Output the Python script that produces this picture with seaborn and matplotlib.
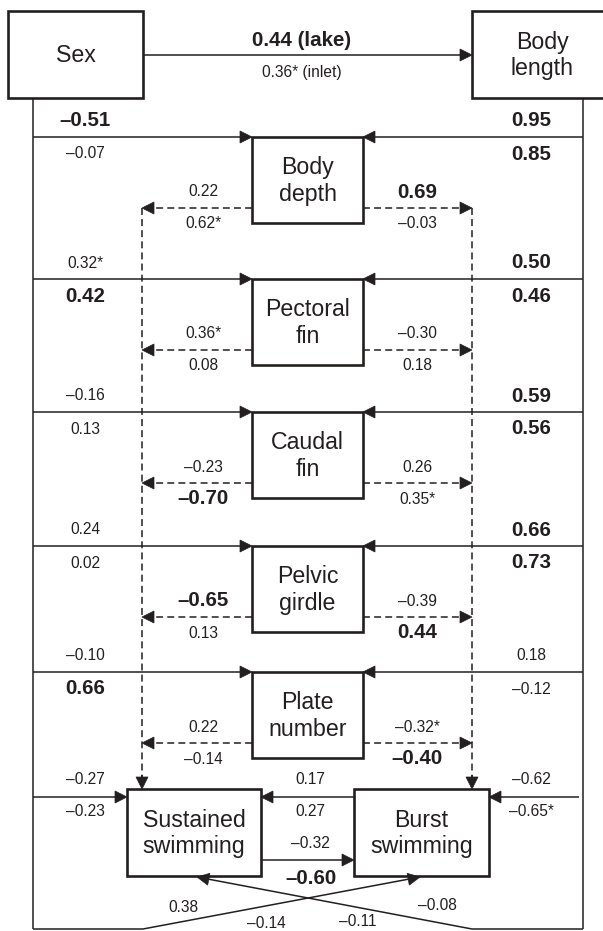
import matplotlib
matplotlib.use("Agg")
import matplotlib.pyplot as plt
from matplotlib.patches import Rectangle, Polygon
import numpy as np
import seaborn as sns

# ---------------------------------------------------------------------------
# Path coefficients (upper value = lake, lower value = inlet); bold = significant
# ---------------------------------------------------------------------------
traits = ["Body\ndepth", "Pectoral\nfin", "Caudal\nfin", "Pelvic\ngirdle", "Plate\nnumber"]

sex_to_length = ["0.44 (lake)", "0.36* (inlet)"]
sex_to_length_sig = [True, False]

sex_to_trait_lake = ["–0.51", "0.32*", "–0.16", "0.24", "–0.10"]
sex_to_trait_lake_sig = [True, False, False, False, False]
sex_to_trait_inlet = ["–0.07", "0.42", "0.13", "0.02", "0.66"]
sex_to_trait_inlet_sig = [False, True, False, False, True]

length_to_trait_lake = ["0.95", "0.50", "0.59", "0.66", "0.18"]
length_to_trait_lake_sig = [True, True, True, True, False]
length_to_trait_inlet = ["0.85", "0.46", "0.56", "0.73", "–0.12"]
length_to_trait_inlet_sig = [True, True, True, True, False]

trait_to_sustained_lake = ["0.22", "0.36*", "–0.23", "–0.65", "0.22"]
trait_to_sustained_lake_sig = [False, False, False, True, False]
trait_to_sustained_inlet = ["0.62*", "0.08", "–0.70", "0.13", "–0.14"]
trait_to_sustained_inlet_sig = [False, False, True, False, False]

trait_to_burst_lake = ["0.69", "–0.30", "0.26", "–0.39", "–0.32*"]
trait_to_burst_lake_sig = [True, False, False, False, False]
trait_to_burst_inlet = ["–0.03", "0.18", "0.35*", "0.44", "–0.40"]
trait_to_burst_inlet_sig = [False, False, False, True, True]

sex_to_sustained = ["–0.27", "–0.23"]
length_to_burst = ["–0.62", "–0.65*"]
burst_to_sustained = ["0.17", "0.27"]
sustained_to_burst = ["–0.32", "–0.60"]
sustained_to_burst_sig = [False, True]
sex_to_burst = ["0.38", "–0.14"]
length_to_sustained = ["–0.08", "–0.11"]

# ---------------------------------------------------------------------------
# Figure in pixel units (y grows downwards)
# ---------------------------------------------------------------------------
sns.set_theme(style="white")
plt.rcParams["font.family"] = ["Liberation Sans", "DejaVu Sans"]
plt.rcParams["lines.scale_dashes"] = False

W, H = 603, 931
INK = "#231f20"
fig = plt.figure(figsize=(W / 100, H / 100), dpi=100)
ax = fig.add_axes([0, 0, 1, 1])
ax.set_xlim(0, W)
ax.set_ylim(H, 0)
ax.set_aspect("equal")
ax.axis("off")

LW = 1.1
BOX_LW = 1.9
DASH = (0, (5, 3))
FS_BOX, FS_BOLD, FS_SMALL = 16.7, 14.8, 11.2


def seg(xs, ys, dashed=False):
    ax.plot(xs, ys, color=INK, lw=LW, ls=DASH if dashed else "-",
            solid_capstyle="butt", dash_capstyle="butt", zorder=2)


def arrow(x0, y0, x1, y1, dashed=False, hl=12.0, hw=6.0):
    d = np.array([x1 - x0, y1 - y0], float)
    d /= np.hypot(*d)
    base = np.array([x1, y1]) - hl * d
    seg([x0, base[0] + 1 * d[0]], [y0, base[1] + 1 * d[1]], dashed)
    p = np.array([-d[1], d[0]])
    tri = [(x1, y1), tuple(base + hw * p), tuple(base - hw * p)]
    ax.add_patch(Polygon(tri, closed=True, facecolor=INK, edgecolor=INK,
                         lw=0.5, zorder=4))


def box(x0, y0, x1, y1, label):
    ax.add_patch(Rectangle((x0, y0), x1 - x0, y1 - y0, facecolor="white",
                           edgecolor=INK, lw=BOX_LW, zorder=3))
    ax.text((x0 + x1) / 2, (y0 + y1) / 2 + 1, label, ha="center", va="center",
            fontsize=FS_BOX, color=INK, linespacing=1.2, zorder=5)


def coef(x, y, s, bold=False):
    ax.text(x, y, s, ha="center", va="center", color=INK, zorder=5,
            fontsize=FS_BOLD if bold else FS_SMALL,
            fontweight="bold" if bold else "normal")


# Column / row geometry
LEFT_X, RIGHT_X = 33, 583          # long vertical paths from Sex / Body length
DL_X, DR_X = 142, 472              # dashed collectors
MID_X0, MID_X1 = 252, 363          # trait boxes
row_top = [137, 279, 412, 546, 672]
BOX_H = 86
DASH_OFF = 71
SUS = (127, 789, 261, 876)
BUR = (354, 789, 489, 876)
BOTTOM_Y = 929

# Top boxes and Sex -> Body length path
box(8, 11, 143, 98, "Sex")
box(472, 11, 612, 98, "Body\nlength")
arrow(143, 55, 472, 55)
coef(302, 41, sex_to_length[0], sex_to_length_sig[0])
coef(302, 72, sex_to_length[1], sex_to_length_sig[1])

# Long vertical paths down both sides plus the bottom returns
seg([LEFT_X, LEFT_X], [98, BOTTOM_Y])
seg([RIGHT_X, RIGHT_X], [98, BOTTOM_Y])
seg([LEFT_X, 143], [BOTTOM_Y, BOTTOM_Y])
seg([472, RIGHT_X], [BOTTOM_Y, BOTTOM_Y])

# Dashed collectors into the performance boxes
seg([DL_X, DL_X], [row_top[0] + DASH_OFF, SUS[1] - 11], dashed=True)
seg([DR_X, DR_X], [row_top[0] + DASH_OFF, BUR[1] - 11], dashed=True)
arrow(DL_X, SUS[1] - 14, DL_X, SUS[1])
arrow(DR_X, BUR[1] - 14, DR_X, BUR[1])

for i, (name, top) in enumerate(zip(traits, row_top)):
    box(MID_X0, top, MID_X1, top + BOX_H, name)
    arrow(LEFT_X, top, MID_X0, top)
    arrow(RIGHT_X, top, MID_X1, top)
    dy = top + DASH_OFF
    arrow(MID_X0, dy, DL_X, dy, dashed=True)
    arrow(MID_X1, dy, DR_X, dy, dashed=True)

    coef(85, top - 16, sex_to_trait_lake[i], sex_to_trait_lake_sig[i])
    coef(85, top + 17, sex_to_trait_inlet[i], sex_to_trait_inlet_sig[i])
    coef(531, top - 16, length_to_trait_lake[i], length_to_trait_lake_sig[i])
    coef(531, top + 17, length_to_trait_inlet[i], length_to_trait_inlet_sig[i])
    coef(203, dy - 16, trait_to_sustained_lake[i], trait_to_sustained_lake_sig[i])
    coef(203, dy + 16, trait_to_sustained_inlet[i], trait_to_sustained_inlet_sig[i])
    coef(417, dy - 16, trait_to_burst_lake[i], trait_to_burst_lake_sig[i])
    coef(417, dy + 16, trait_to_burst_inlet[i], trait_to_burst_inlet_sig[i])

# Performance boxes
box(*SUS, "Sustained\nswimming")
box(*BUR, "Burst\nswimming")
y_in = 797
arrow(LEFT_X, y_in, SUS[0], y_in)
arrow(579, y_in, BUR[2], y_in)
arrow(BUR[0], y_in, SUS[2], y_in)
arrow(SUS[2], 860, BUR[0], 860)

coef(85, y_in - 17, sex_to_sustained[0])
coef(85, y_in + 15, sex_to_sustained[1])
coef(531, y_in - 17, length_to_burst[0])
coef(531, y_in + 15, length_to_burst[1])
coef(310, y_in - 17, burst_to_sustained[0])
coef(310, y_in + 15, burst_to_sustained[1])
coef(310, 843, sustained_to_burst[0], sustained_to_burst_sig[0])
coef(311, 879, sustained_to_burst[1], sustained_to_burst_sig[1])

# Crossing direct paths from Sex / Body length
arrow(143, BOTTOM_Y, 420, 877)
arrow(472, BOTTOM_Y, 197, 877)
coef(183, 907, sex_to_burst[0])
coef(266, 924, sex_to_burst[1])
coef(437, 906, length_to_sustained[0])
coef(358, 921, length_to_sustained[1])

fig.savefig("out.png", dpi=100, facecolor="white")
